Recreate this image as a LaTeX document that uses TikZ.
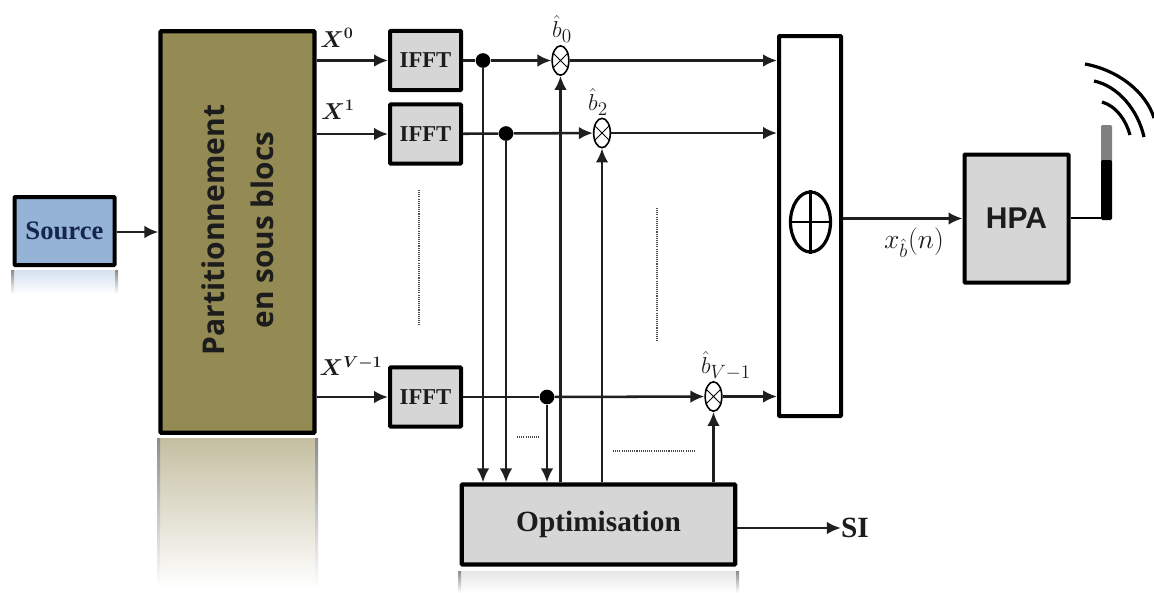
\documentclass[tikz,border=0pt]{standalone}
\usepackage{fontspec}
\usepackage{amsmath}
\setmainfont{Liberation Serif}
\newfontfamily\sansf{Open Sans}
\newfontfamily\hpaf{Liberation Sans}
\DeclareMathSizes{16}{16}{12}{9}
\DeclareMathSizes{19}{19}{14}{10}
\DeclareMathSizes{22}{22}{15}{11}
\usetikzlibrary{arrows.meta,shapes.geometric,calc}
\definecolor{srcblue}{HTML}{95B3D7}
\definecolor{olivebox}{HTML}{948A54}
\definecolor{greybox}{HTML}{D6D6D6}
\definecolor{txt}{HTML}{1C1C1C}
\definecolor{navy}{HTML}{14264A}
\tikzset{
  x=0.75pt,y=-0.75pt,
  boxn/.style={draw=black,line width=3.2pt,minimum width=0pt,inner sep=0pt,rounded corners=0.6pt,text=txt},
  iffb/.style={boxn,fill=greybox,line width=3pt,minimum width=53.25pt,minimum height=44.5pt,font=\bfseries\fontsize{17}{19}\selectfont},
  mult/.style={draw=black,line width=1.2pt,fill=white,ellipse,minimum width=12.5pt,minimum height=22pt,inner sep=0pt},
  conn/.style={draw=black!88,line width=1.9pt},
  arr/.style={conn,-{Latex[length=10.5pt,width=9.5pt]}},
  dot/.style={circle,fill=black,inner sep=0pt,minimum size=11pt},
  dots/.style={draw=black!70,line width=0.9pt,dash pattern=on 0.8pt off 0.8pt},
  lab/.style={inner sep=0pt,text=txt},
}
\newcommand{\mirrorbox}[5]{%
  \shade[top color=#5,bottom color=white] (#1,#3) rectangle (#2,#4);
  \shade[top color=black!45,bottom color=white] (#1-2,#3) rectangle (#1+1,#4);
  \shade[top color=black!45,bottom color=white] (#2-1,#3) rectangle (#2+2,#4);
}
\begin{document}
\begin{tikzpicture}
\useasboundingbox (0,0) rectangle (1154,593);
\fill[white] (0,0) rectangle (1154,593);
% reflections
\mirrorbox{13}{116}{270}{294}{srcblue!40}
\mirrorbox{159}{316}{438}{588}{olivebox!55}
\mirrorbox{460}{737}{571}{593}{black!10}
% boxes
\node[boxn,fill=srcblue,line width=3pt,minimum width=75pt,minimum height=51pt,text=navy,font=\bfseries\fontsize{20}{22}\selectfont] (src) at (64.5,231) {Source};
\node[boxn,fill=olivebox,minimum width=115.5pt,minimum height=301pt] (part) at (237.5,232) {};
\node[lab,rotate=90,font=\sansf\bfseries\fontsize{22.5}{24}\selectfont] (ptxt1) at (213,230) {Partitionnement};
\node[lab,rotate=90,font=\sansf\bfseries\fontsize{22.3}{24}\selectfont] (ptxt2) at (262,230) {en sous blocs};
\node[iffb] (f1) at (425.5,60.5) {IFFT};
\node[iffb] (f2) at (425.5,134) {IFFT};
\node[iffb] (f3) at (425.5,397) {IFFT};
\node[boxn,fill=white,line width=3pt,minimum width=46.5pt,minimum height=285pt] (sum) at (810,226) {};
\node[draw=black,line width=2.4pt,ellipse,minimum width=30pt,minimum height=45pt,inner sep=0pt] (plus) at (810.5,222) {};
\draw[black,line width=2pt] (plus.west) -- (plus.east) (plus.north) -- (plus.south);
\node[boxn,fill=greybox,minimum width=78pt,minimum height=96pt,line width=3pt,font=\hpaf\bfseries\fontsize{22.5}{25}\selectfont] (hpa) at (1016.5,218.5) {HPA};
\node[boxn,fill=greybox,minimum width=205pt,minimum height=60pt,line width=3.2pt,font=\bfseries\fontsize{22}{25}\selectfont] (opt) at (598.5,524.5) {Optimisation};
\node[lab,font=\bfseries\fontsize{22}{24}\selectfont] (si) at (855,528) {SI};
% multipliers
\node[mult] (m0) at (560.5,60.5) {};
\node[mult] (m1) at (602,133) {};
\node[mult] (m2) at (713.5,396.5) {};
\foreach \m in {m0,m1,m2}{\draw[black,line width=0.7pt] (\m.45) -- (\m.225) (\m.135) -- (\m.315);}
% junction dots
\node[dot] (d0) at (483,60.5) {};
\node[dot] (d1) at (506,133.5) {};
\node[dot] (d2) at (547,397) {};
% connectors
\draw[arr] (src.east |- 0,232) -- (part.west |- 0,232);
\draw[arr] (part.east |- f1) -- (f1);
\draw[arr] (part.east |- f2) -- (f2);
\draw[arr] (part.east |- f3) -- (f3);
\draw[conn] (f1) -- (d0);
\draw[arr] (d0) -- (m0);
\draw[conn] (f2) -- (d1);
\draw[arr] (d1) -- (m1);
\draw[conn] (f3) -- (d2);
\draw[arr] (d2) -- (m2);
\draw[arr] (d0) -- (d0 |- opt.north);
\draw[arr] (d1) -- (d1 |- opt.north);
\draw[arr] (d2) -- (d2 |- opt.north);
\draw[arr] (m0 |- opt.north) -- (m0);
\draw[arr] (m1 |- opt.north) -- (m1);
\draw[arr] (m2 |- opt.north) -- (m2);
\draw[arr] (m0) -- (sum.west |- m0);
\draw[arr] (m1) -- (sum.west |- m1);
\draw[arr] (m2) -- (sum.west |- m2);
\draw[arr] (sum.east |- hpa) -- (hpa.west);
\draw[arr] (opt.east |- si) -- (si.west);
% dotted marks
\coordinate (da1) at (419,190); \coordinate (da2) at (419,326);
\coordinate (db1) at (657,208); \coordinate (db2) at (657,342);
\coordinate (dc1) at (517,437); \coordinate (dc2) at (539,437);
\coordinate (dd1) at (613,451); \coordinate (dd2) at (695,451);
\draw[dots] (da1) -- (da2);
\draw[dots] (db1) -- (db2);
\draw[dots] (dc1) -- (dc2);
\draw[dots] (dd1) -- (dd2);
% labels
\node[lab,font=\fontsize{16}{18}\selectfont] (x0) at (337,38) {{\boldmath$X^{0}$}};
\node[lab,font=\fontsize{16}{18}\selectfont] (x1) at (338,110) {{\boldmath$X^{1}$}};
\node[lab,font=\fontsize{16}{18}\selectfont] (x2) at (351,366) {{\boldmath$X^{V-1}$}};
\node[lab,font=\fontsize{19}{21}\selectfont] (b0) at (562,29) {$\hat{b}_{0}$};
\node[lab,font=\fontsize{19}{21}\selectfont] (b1) at (598,102) {$\hat{b}_{2}$};
\node[lab,font=\fontsize{19}{21}\selectfont] (b2) at (726,366) {$\hat{b}_{V-1}$};
\node[lab,font=\fontsize{22}{24}\selectfont] (xb) at (914,243) {$x_{\hat{b}}(n)$};
% antenna
\fill[black!50,rounded corners=1pt] (1101,125) rectangle (1112,162);
\fill[black,rounded corners=1pt] (1101,160) rectangle (1112,220);
\draw[black,line width=2.2pt] (hpa.east |- 0,218) -- (1106,218);
\draw[black,line width=2.4pt] (1085,64) .. controls (1118,70) and (1146,92) .. (1154,118);
\draw[black,line width=2.4pt] (1094,81) .. controls (1118,86) and (1138,110) .. (1144,137);
\draw[black,line width=2.4pt] (1102,102) .. controls (1116,106) and (1126,120) .. (1130,135);
\end{tikzpicture}
\end{document}
